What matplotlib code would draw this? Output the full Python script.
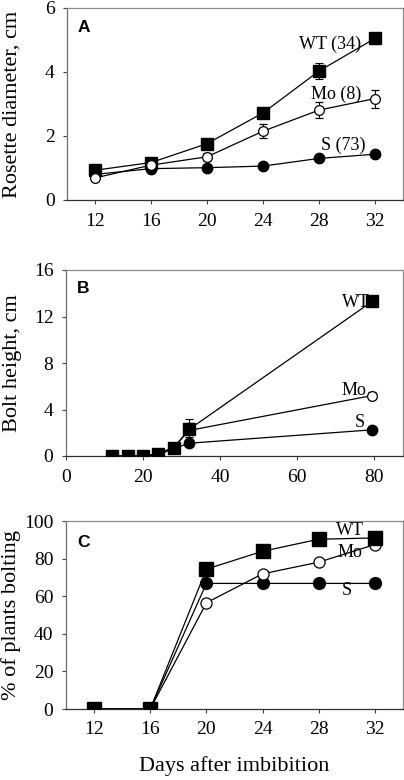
import matplotlib
matplotlib.use("Agg")
import matplotlib.pyplot as plt

# -----------------------------
# DATA
# -----------------------------
days = [12, 16, 20, 24, 28, 32]

# Panel A: rosette diameter (cm)
wt_diam = [0.93, 1.17, 1.76, 2.72, 4.03, 5.05]
wt_diam_err = [0.05, 0.05, 0.06, 0.08, 0.26, 0.16]
mo_diam = [0.69, 1.09, 1.35, 2.15, 2.81, 3.17]
mo_diam_err = [0.08, 0.06, 0.12, 0.22, 0.26, 0.28]
s_diam = [0.80, 0.98, 1.01, 1.06, 1.30, 1.43]
s_diam_err = [0.03, 0.03, 0.03, 0.03, 0.04, 0.05]

# Panel B: bolt height (cm)
bolt_days = [12, 16, 20, 24, 28, 32, 79.5]
wt_bolt = [0, 0, 0, 0.2, 0.7, 2.3, 13.3]
wt_bolt_err = [0, 0, 0, 0.05, 0.4, 0.9, 0.2]
mo_bolt = [0, 0, 0, 0.15, 0.8, 2.2, 5.2]
mo_bolt_err = [0, 0, 0, 0.05, 0.3, 0.6, 0.3]
s_bolt = [0, 0, 0, 0.1, 0.65, 1.1, 2.25]
s_bolt_err = [0, 0, 0, 0.03, 0.1, 0.1, 0.2]

# Panel C: % of plants bolting
wt_pct = [0, 0, 74.4, 83.9, 90.3, 91.0]
mo_pct = [0, 0, 56.5, 71.9, 78.1, 87.5]
s_pct = [0, 0, 66.8, 66.8, 66.8, 66.8]

serif = "Liberation Serif"
sans = "Liberation Sans"
W, H = 404, 780

fig = plt.figure(figsize=(W / 100, H / 100), dpi=100)


def make_ax(left, top, right, bottom):
    ax = fig.add_axes([left / W, 1 - bottom / H, (right - left) / W, (bottom - top) / H])
    for side in ["top", "right"]:
        ax.spines[side].set_color("#8c8c8c")
        ax.spines[side].set_linewidth(0.9)
    ax.spines["left"].set_color("#6e6e6e")
    ax.spines["bottom"].set_color("#303030")
    ax.spines["left"].set_linewidth(0.9)
    ax.spines["bottom"].set_linewidth(0.9)
    ax.tick_params(direction="out", length=3, width=0.8, color="#404040",
                   labelsize=14, pad=6)
    return ax


def style_ticks(ax):
    for lab in ax.get_xticklabels() + ax.get_yticklabels():
        lab.set_fontfamily(serif)
        lab.set_fontsize(14)


def ylab(ax, text, x):
    ax.set_ylabel(text, fontfamily=serif, fontsize=16, va="center")
    ax.yaxis.set_label_coords(x, 0.5)


sq = dict(marker="s", ms=8.5, mfc="black", mec="black", color="black", lw=0.9)
oc = dict(marker="o", ms=7, mfc="white", mec="black", color="black", lw=0.9, mew=0.9)
fc = dict(marker="o", ms=7.5, mfc="black", mec="black", color="black", lw=0.9)
eb = dict(capsize=3, elinewidth=0.8, capthick=0.8, ecolor="black")

# -----------------------------
# PANEL A
# -----------------------------
axA = make_ax(67, 8, 403, 200)
axA.errorbar(days, s_diam, yerr=s_diam_err, zorder=3, **fc, **eb)
axA.errorbar(days, wt_diam, yerr=wt_diam_err, zorder=4, **sq, **eb)
axA.errorbar(days, mo_diam, yerr=mo_diam_err, zorder=5, **oc, **eb)
axA.set_xlim(10, 34)
axA.set_ylim(0, 6)
axA.set_xticks(days)
axA.set_yticks([0, 2, 4, 6])
style_ticks(axA)
ylab(axA, "Rosette diameter, cm", -0.163)
axA.text(0.03, 0.875, "A", transform=axA.transAxes, fontfamily=sans,
         fontweight="bold", fontsize=12.5)
axA.text(31.0, 4.85, "WT (34)", fontfamily=serif, fontsize=13, ha="right", va="center")
axA.text(31.0, 3.3, "Mo (8)", fontfamily=serif, fontsize=13, ha="right", va="center")
axA.text(31.3, 1.72, "S (73)", fontfamily=serif, fontsize=13, ha="right", va="center")

# -----------------------------
# PANEL B
# -----------------------------
axB = make_ax(66, 270, 403, 456)
axB.errorbar(bolt_days, s_bolt, yerr=s_bolt_err, zorder=3, **fc, **eb)
axB.errorbar(bolt_days, mo_bolt, yerr=mo_bolt_err, zorder=4, **oc, **eb)
axB.errorbar(bolt_days, wt_bolt, yerr=wt_bolt_err, zorder=5, **sq, **eb)
axB.set_xlim(0, 87.5)
axB.set_ylim(0, 16)
axB.set_xticks([0, 20, 40, 60, 80])
axB.set_yticks([0, 4, 8, 12, 16])
style_ticks(axB)
ylab(axB, "Bolt height, cm", -0.16)
axB.text(0.033, 0.876, "B", transform=axB.transAxes, fontfamily=sans,
         fontweight="bold", fontsize=12.5)
axB.text(79.0, 13.2, "WT", fontfamily=serif, fontsize=13, ha="right", va="center")
axB.text(78.0, 5.6, "Mo", fontfamily=serif, fontsize=13, ha="right", va="center")
axB.text(77.5, 2.9, "S", fontfamily=serif, fontsize=13, ha="right", va="center")

# -----------------------------
# PANEL C
# -----------------------------
axC = make_ax(66, 521, 403, 709)
axC.plot(days, s_pct, zorder=3, **dict(fc, ms=8.5))
axC.plot(days, mo_pct, zorder=4, **dict(oc, ms=8))
axC.plot(days, wt_pct, zorder=5, **dict(sq, ms=10))
axC.set_xlim(10, 34)
axC.set_ylim(0, 100)
axC.set_xticks(days)
axC.set_yticks([0, 20, 40, 60, 80, 100])
style_ticks(axC)
ylab(axC, "% of plants bolting", -0.163)
axC.set_xlabel("Days after imbibition", fontfamily=serif, fontsize=16, va="top")
axC.xaxis.set_label_coords(0.5, -0.25)
axC.text(0.033, 0.862, "C", transform=axC.transAxes, fontfamily=sans,
         fontweight="bold", fontsize=12.5)
axC.text(30.2, 95.2, "WT", fontfamily=serif, fontsize=13, ha="center", va="center")
axC.text(30.2, 83.0, "Mo", fontfamily=serif, fontsize=13, ha="center", va="center")
axC.text(30.0, 62.8, "S", fontfamily=serif, fontsize=13, ha="center", va="center")

fig.savefig("out.png", dpi=100)
